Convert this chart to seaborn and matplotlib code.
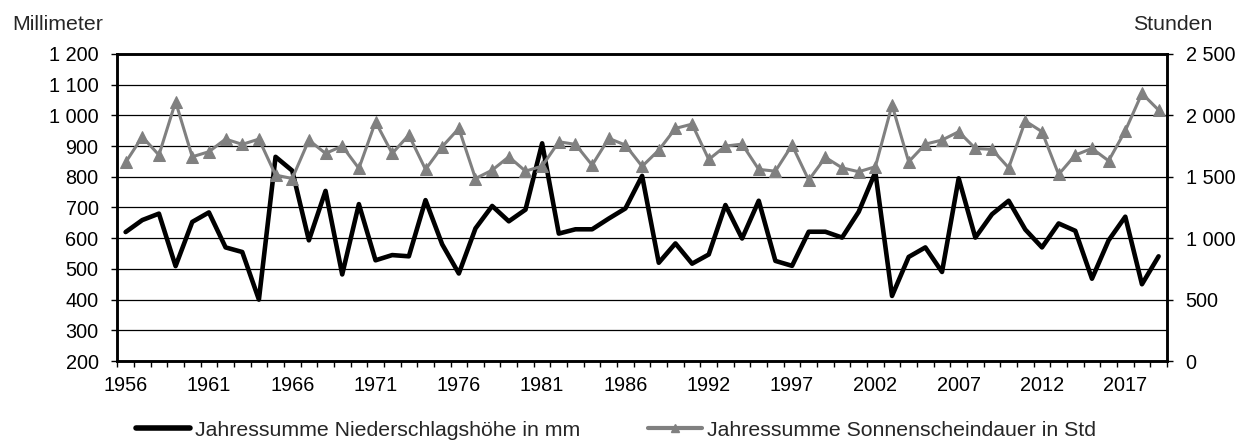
import pandas as pd
import matplotlib
matplotlib.use("Agg")
import matplotlib.pyplot as plt
import seaborn as sns
from matplotlib.lines import Line2D
from matplotlib.ticker import FuncFormatter

# Jahre (1991 fehlt in der Reihe)
years = [1956, 1957, 1958, 1959, 1960, 1961, 1962, 1963, 1964, 1965,
         1966, 1967, 1968, 1969, 1970, 1971, 1972, 1973, 1974, 1975,
         1976, 1977, 1978, 1979, 1980, 1981, 1982, 1983, 1984, 1985,
         1986, 1987, 1988, 1989, 1990, 1992, 1993, 1994, 1995, 1996,
         1997, 1998, 1999, 2000, 2001, 2002, 2003, 2004, 2005, 2006,
         2007, 2008, 2009, 2010, 2011, 2012, 2013, 2014, 2015, 2016,
         2017, 2018, 2019]

niederschlag = [620, 659, 680, 509, 653, 684, 570, 555, 400, 865,
                820, 593, 754, 482, 711, 528, 545, 541, 724, 580,
                485, 632, 705, 655, 693, 909, 615, 629, 629, 664,
                697, 803, 520, 583, 517, 547, 708, 599, 722, 526,
                510, 621, 621, 602, 686, 815, 412, 539, 570, 490,
                795, 602, 678, 722, 628, 570, 648, 624, 468, 593,
                670, 450, 541]

sonne = [1617, 1826, 1677, 2111, 1663, 1704, 1807, 1764, 1807, 1514,
         1486, 1799, 1690, 1750, 1568, 1948, 1690, 1840, 1560, 1745,
         1894, 1486, 1554, 1663, 1546, 1587, 1785, 1764, 1595, 1813,
         1758, 1585, 1717, 1894, 1929, 1641, 1750, 1766, 1560, 1546,
         1758, 1473, 1658, 1573, 1541, 1582, 2084, 1622, 1766, 1799,
         1867, 1731, 1723, 1573, 1954, 1867, 1519, 1677, 1731, 1630,
         1875, 2179, 2043]

label_n = "Jahressumme Niederschlagshöhe in mm"
label_s = "Jahressumme Sonnenscheindauer in Std"

df = pd.DataFrame({"pos": range(len(years)), "Jahr": years,
                   "Niederschlag": niederschlag, "Sonne": sonne})

sns.set_theme(style="white")
plt.rcParams["font.family"] = ["Liberation Sans", "DejaVu Sans"]
fs_tick = 14.3
fs_text = 15.3

fig = plt.figure(figsize=(12.49, 4.41), dpi=100)
ax = fig.add_axes([0.0939, 0.1814, 0.8404, 0.6962])
ax2 = ax.twinx()

sns.lineplot(data=df, x="pos", y="Niederschlag", ax=ax, color="black",
             linewidth=3.3, legend=False)
sns.lineplot(data=df, x="pos", y="Sonne", ax=ax2, color="#808080",
             linewidth=2.2, marker="^", markersize=8.5,
             markeredgecolor="#808080", legend=False)

thousands = FuncFormatter(lambda v, p: f"{int(v):,}".replace(",", " "))

ax.set_xlim(-0.5, len(years) - 0.5)
ax.set_ylim(200, 1200)
ax.set_yticks(range(200, 1201, 100))
ax.yaxis.set_major_formatter(thousands)
ax2.set_ylim(0, 2500)
ax2.set_yticks(range(0, 2501, 500))
ax2.yaxis.set_major_formatter(thousands)

ax.yaxis.grid(True, color="black", linewidth=0.9)
ax.xaxis.grid(False)
ax2.grid(False)

label_pos = list(range(0, len(years), 5))
ax.set_xticks(label_pos)
ax.set_xticklabels([str(years[i]) for i in label_pos])
ax.set_xticks([i - 0.5 for i in range(len(years) + 1)], minor=True)
ax.tick_params(axis="x", which="major", length=0, pad=11, labelsize=fs_tick, colors="black")
ax.tick_params(axis="x", which="minor", length=4.5, width=1, direction="out",
               bottom=True, color="black")
ax.tick_params(axis="y", length=4.5, width=1, direction="out", left=True,
               pad=9, labelsize=fs_tick, colors="black")
ax2.tick_params(axis="y", length=4.5, width=1, direction="out", right=True,
                pad=9, labelsize=fs_tick, colors="black")

ax.set_xlabel("")
ax.set_ylabel("")
ax2.set_ylabel("")
for a in (ax, ax2):
    for sp in a.spines.values():
        sp.set_color("black")
        sp.set_linewidth(1.8)

fig.text(12 / 1249, 1 - 25 / 441, "Millimeter", ha="left", va="center", fontsize=fs_text)
fig.text(1133 / 1249, 1 - 25 / 441, "Stunden", ha="left", va="center", fontsize=fs_text)

handles = [Line2D([], [], color="black", linewidth=4),
           Line2D([], [], color="#808080", linewidth=3, marker="^",
                  markersize=6, markeredgecolor="#808080")]
fig.legend(handles, [label_n, label_s], loc="center",
           bbox_to_anchor=(616 / 1249, 1 - 430 / 441), ncol=2, frameon=False,
           fontsize=fs_text, handlelength=2.55, handletextpad=0.24,
           columnspacing=3.15, borderpad=0.1)

fig.savefig("out.png", dpi=100)
